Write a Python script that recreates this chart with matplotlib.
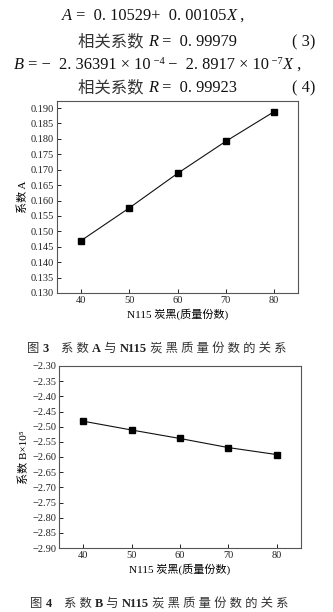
import matplotlib.pyplot as plt

plt.rcParams['font.family'] = ['Liberation Serif', 'Noto Sans CJK SC']

# N115 carbon black loading (phr)
loading = [40, 50, 60, 70, 80]
coef_a = [0.1470, 0.1576, 0.1688, 0.1792, 0.1888]
coef_b = [-2.482, -2.511, -2.539, -2.569, -2.592]

a_ticks = [0.130, 0.135, 0.140, 0.145, 0.150, 0.155, 0.160, 0.165, 0.170,
           0.175, 0.180, 0.185, 0.190]
b_ticks = [-2.30, -2.35, -2.40, -2.45, -2.50, -2.55, -2.60, -2.65, -2.70,
           -2.75, -2.80, -2.85, -2.90]
x_ticks = [40, 50, 60, 70, 80]

fig = plt.figure(figsize=(3.33, 6.12), dpi=100)
W, H = 333, 612
renderer = fig.canvas.get_renderer()


def runs(x, y, pieces, size=11.8, color='#111111'):
    """Draw text pieces one after another on a line, x and y in pixels."""
    for txt, kw in pieces:
        opts = dict(fontsize=size, color=color, va='baseline', ha='left')
        opts.update(kw)
        fs = opts.pop('fontsize')
        dy = opts.pop('dy', 0)
        t = fig.text(x / W, 1 - (y - dy) / H, txt, fontsize=fs, **opts)
        x = t.get_window_extent(renderer).x1


def style_axes(ax):
    for s in ax.spines.values():
        s.set_color('#555555')
        s.set_linewidth(0.8)
    ax.tick_params(direction='in', length=3, width=0.7, colors='#222222',
                   labelsize=7.5, pad=2)


it = {'style': 'italic'}
sup = {'fontsize': 7.5, 'dy': 5}
no = {}
cjk = {'color': '#333333', 'fontweight': 'light'}

# equations at the top
runs(62, 20, [('A', it), (' =  0. 10529+  0. 00105', no), ('X', it), (' ,', no)])
runs(78, 46, [('相关系数 ', cjk), ('R', it), (' =  0. 99979', no)])
runs(292, 46, [('( 3)', no)])
runs(14, 69, [('B', it), (' = −  2. 36391 × 10', no), (' −4', sup),
              (' −  2. 8917 × 10', no), (' −7', sup), ('X', it), (' ,', no)])
runs(78, 92, [('相关系数 ', cjk), ('R', it), (' =  0. 99923', no)])
runs(292, 92, [('( 4)', no)])

# coefficient A
ax1 = fig.add_axes([57 / W, 1 - 293 / H, 241 / W, 192 / H])
ax1.plot(loading, coef_a, color='#111111', lw=0.8, marker='s', ms=5,
         mfc='black', mec='black')
ax1.set_xlim(35, 85)
ax1.set_ylim(0.130, 0.1923)
ax1.set_yticks(a_ticks)
ax1.set_yticklabels([f'{v:.3f}' for v in a_ticks])
ax1.set_xticks(x_ticks)
ax1.set_ylabel('系数 A', fontsize=8, labelpad=2)
ax1.set_xlabel('N115 炭黑(质量份数)', fontsize=8, labelpad=3)
style_axes(ax1)

bold = {'fontweight': 'bold'}
cap = ' '.join('炭黑质量份数的关系')
runs(27, 352, [('图 ', cjk), ('3', bold), ('    ', no), ('系 数 ', cjk),
               ('A', bold), (' 与 ', cjk), ('N115', bold), (' ' + cap, cjk)],
     size=8.9, color='#222222')

# coefficient B
ax2 = fig.add_axes([59 / W, 1 - 548 / H, 242 / W, 182 / H])
ax2.plot(loading, coef_b, color='#111111', lw=0.8, marker='s', ms=5,
         mfc='black', mec='black')
ax2.set_xlim(35, 85)
ax2.set_ylim(-2.90, -2.30)
ax2.set_yticks(b_ticks)
ax2.set_yticklabels([f'−{abs(v):.2f}' for v in b_ticks])
ax2.set_xticks(x_ticks)
ax2.set_ylabel('系数 B×10⁵', fontsize=8, labelpad=2)
ax2.set_xlabel('N115 炭黑(质量份数)', fontsize=8, labelpad=3)
style_axes(ax2)

runs(30, 607, [('图 ', cjk), ('4', bold), ('    ', no), ('系 数 ', cjk),
               ('B', bold), (' 与 ', cjk), ('N115', bold), (' ' + cap, cjk)],
     size=8.9, color='#222222')

fig.savefig('out.png', dpi=100)
